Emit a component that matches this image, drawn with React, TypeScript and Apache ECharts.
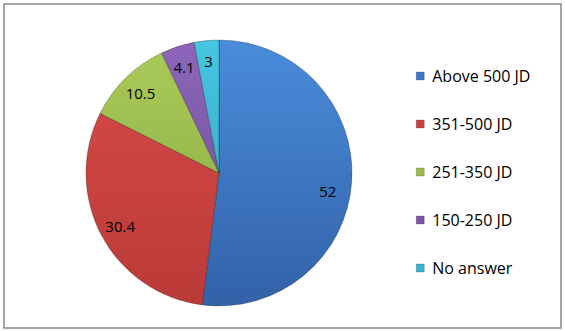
import React, { useEffect, useRef } from "react";
import * as echarts from "echarts";

const categories = ["Above 500 JD", "351-500 JD", "251-350 JD", "150-250 JD", "No answer"];
const values = [52, 30.4, 10.5, 4.1, 3];
const topColors = ["#4A8CDB", "#DA4B48", "#AACB58", "#8C66BA", "#46C6E2"];
const bottomColors = ["#3262A8", "#B93A38", "#88A63F", "#6B4A95", "#2E9DB8"];
const legendColors = ["#3F78C6", "#CC4442", "#9BBD4E", "#7C58A8", "#3AB3D0"];

const CX = 219;
const CY = 173;
const R = 133;

export default function App() {
  const ref = useRef<HTMLDivElement>(null);
  useEffect(() => {
    document.body.style.margin = "0";
    if (!ref.current) return;
    const chart = echarts.init(ref.current, undefined, { renderer: "svg" });
    const grad = (i: number) =>
      new echarts.graphic.LinearGradient(0, CY - R, 0, CY + R, [
        { offset: 0, color: topColors[i] },
        { offset: 1, color: bottomColors[i] },
      ], true);
    const mainData = categories.map((name, i) => ({
      name,
      value: values[i],
      itemStyle: { color: grad(i) },
    }));
    const labelData = categories.map((name, i) => ({
      name,
      value: values[i],
      label: i === 0 ? { offset: [-3, 11] } : {},
    }));
    chart.setOption({
      animation: false,
      backgroundColor: "#ffffff",
      graphic: [
        {
          type: "rect",
          shape: { x: 4, y: 4, width: 557, height: 324 },
          style: { fill: "none", stroke: "#858585", lineWidth: 1.5 },
          silent: true,
          z: 100,
        },
      ],
      legend: {
        orient: "vertical",
        left: 416,
        top: 66,
        padding: 0,
        itemWidth: 8,
        itemHeight: 8,
        itemGap: 28,
        icon: "rect",
        selectedMode: false,
        textStyle: {
          fontFamily: "Open Sans",
          fontSize: 16,
          lineHeight: 20,
          color: "#000000",
          padding: [0, 0, 0, 3],
        },
        data: categories.map((name, i) => ({
          name,
          itemStyle: { color: legendColors[i], borderColor: "rgba(0,0,0,0.35)", borderWidth: 0.5 },
        })),
      },
      series: [
        {
          type: "pie",
          center: [CX, CY],
          radius: [0, R],
          startAngle: 90,
          clockwise: true,
          silent: true,
          label: { show: false },
          labelLine: { show: false },
          itemStyle: { borderColor: "rgba(0,0,0,0.25)", borderWidth: 1 },
          data: mainData,
        },
        {
          type: "pie",
          center: [CX, CY],
          radius: [R * 0.64, R],
          startAngle: 90,
          clockwise: true,
          silent: true,
          itemStyle: { color: "rgba(0,0,0,0)", borderWidth: 0 },
          label: {
            show: true,
            position: "inside",
            formatter: "{c}",
            fontFamily: "Open Sans",
            fontSize: 15,
            color: "#000000",
          },
          labelLine: { show: false },
          data: labelData,
        },
      ],
    });
    return () => chart.dispose();
  }, []);
  return <div ref={ref} style={{ width: 565, height: 331 }} />;
}
